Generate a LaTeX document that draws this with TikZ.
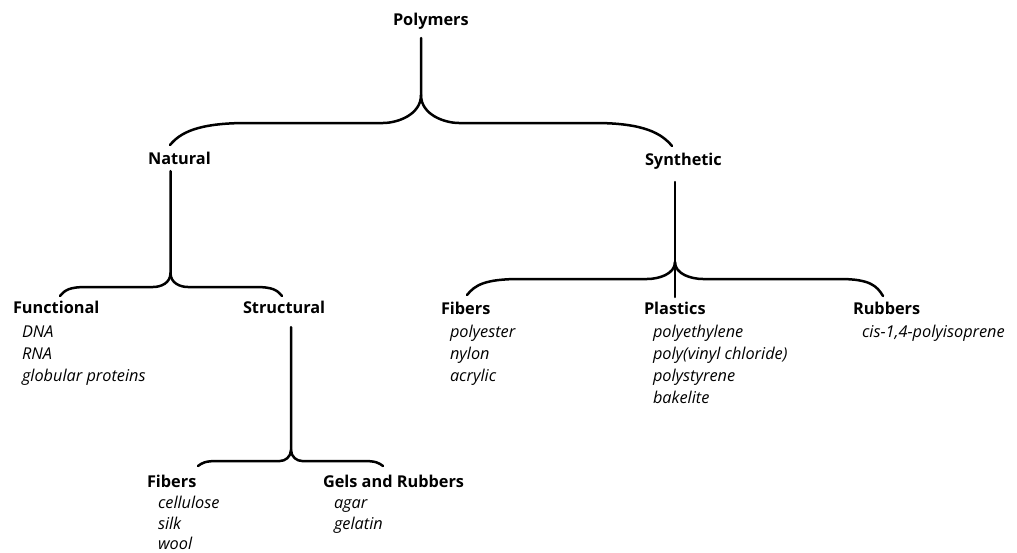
\documentclass[tikz,border=0pt]{standalone}
\usepackage{fontspec}
\setmainfont{Open Sans}

\tikzstyle{head}  = [anchor=base west, inner sep=0pt, outer sep=0pt, font=\fontsize{16.3}{20}\selectfont\bfseries]
\tikzstyle{item}  = [anchor=base west, inner sep=0pt, outer sep=0pt, font=\fontsize{16.3}{20}\selectfont\itshape]
\tikzstyle{brace} = [line width=2.5pt, line cap=round, line join=round]

\begin{document}
\begin{tikzpicture}[x=1pt, y=-1pt]
  \useasboundingbox (0,0) rectangle (1017,552);

  % labels
  \draw
    node[head] (polymers)  at (393,25)  {Polymers}
    node[head] (natural)   at (148,164) {Natural}
    node[head] (synthetic) at (645,165) {Synthetic}
    node[head] (functional) at (13,313) {Functional}
    node[head] (structural) at (243,313) {Structural}
    node[head] (sfibers)   at (441,314) {Fibers}
    node[head] (plastics)  at (644,314) {Plastics}
    node[head] (rubbers)   at (853,314) {Rubbers}
    node[head] (nfibers)   at (147,487) {Fibers}
    node[head] (gels)      at (323,487) {Gels and Rubbers};

  \draw
    node[item] (dna)   at (22,337) {DNA}
    node[item] (rna)   at (22,359) {RNA}
    node[item] (glob)  at (22,381) {globular proteins}
    node[item] (pest)  at (450,337) {polyester}
    node[item] (nylon) at (450,359) {nylon}
    node[item] (acryl) at (450,381) {acrylic}
    node[item] (pe)    at (653,337) {polyethylene}
    node[item] (pvc)   at (653,359) {poly(vinyl chloride)}
    node[item] (ps)    at (653,381) {polystyrene}
    node[item] (bake)  at (653,403) {bakelite}
    node[item] (cis)   at (862,337) {cis-1,4-polyisoprene}
    node[item] (cell)  at (158,508) {cellulose}
    node[item] (silk)  at (158,529) {silk}
    node[item] (wool)  at (158,549) {wool}
    node[item] (agar)  at (334,508) {agar}
    node[item] (gelat) at (334,529) {gelatin};

  % brace points
  \coordinate (top-stem)  at (421,38);
  \coordinate (top-cusp)  at (421,95);
  \coordinate (nat-end)   at (170,145);
  \coordinate (syn-end)   at (672,146);
  \coordinate (nat-stem)  at (170.5,171);
  \coordinate (nat-cusp)  at (170.5,273);
  \coordinate (fun-end)   at (60,296);
  \coordinate (str-end)   at (282,296);
  \coordinate (syn-stem)  at (675,182);
  \coordinate (syn-cusp)  at (675,262);
  \coordinate (pla-end)   at (675,297);
  \coordinate (fib-end)   at (467,295);
  \coordinate (rub-end)   at (883,296);
  \coordinate (str-stem)  at (291,327);
  \coordinate (str-cusp)  at (291,450);
  \coordinate (nfi-end)   at (198,466);
  \coordinate (gel-end)   at (383,466);

  % braces
  \draw[brace] (top-stem) -- (top-cusp)
    .. controls +(0,20) and +(14,0) .. (383,123) -- (247,123)
    .. controls +(-50,0) and +(10,-12) .. (nat-end);
  \draw[brace] (top-cusp)
    .. controls +(0,20) and +(-14,0) .. (459,123) -- (595,123)
    .. controls +(50,0) and +(-10,-12) .. (syn-end);

  \draw[brace] (nat-stem) -- (nat-cusp)
    .. controls +(0,10) and +(8,0) .. (153,287) -- (87,287)
    .. controls +(-18,0) and +(5,-6) .. (fun-end);
  \draw[brace] (nat-cusp)
    .. controls +(0,10) and +(-8,0) .. (188,287) -- (255,287)
    .. controls +(18,0) and +(-5,-6) .. (str-end);

  \draw[brace] (syn-stem) -- (pla-end);
  \draw[brace] (syn-cusp)
    .. controls +(0,12) and +(12,0) .. (647,279) -- (520,279)
    .. controls +(-35,0) and +(8,-10) .. (fib-end);
  \draw[brace] (syn-cusp)
    .. controls +(0,12) and +(-12,0) .. (703,279) -- (840,279)
    .. controls +(30,0) and +(-6,-10) .. (rub-end);

  \draw[brace] (str-stem) -- (str-cusp)
    .. controls +(0,7) and +(5,0) .. (280,461) -- (217,461)
    .. controls +(-12,0) and +(4,-3) .. (nfi-end);
  \draw[brace] (str-cusp)
    .. controls +(0,7) and +(-5,0) .. (302,461) -- (364,461)
    .. controls +(12,0) and +(-4,-3) .. (gel-end);
\end{tikzpicture}
\end{document}
